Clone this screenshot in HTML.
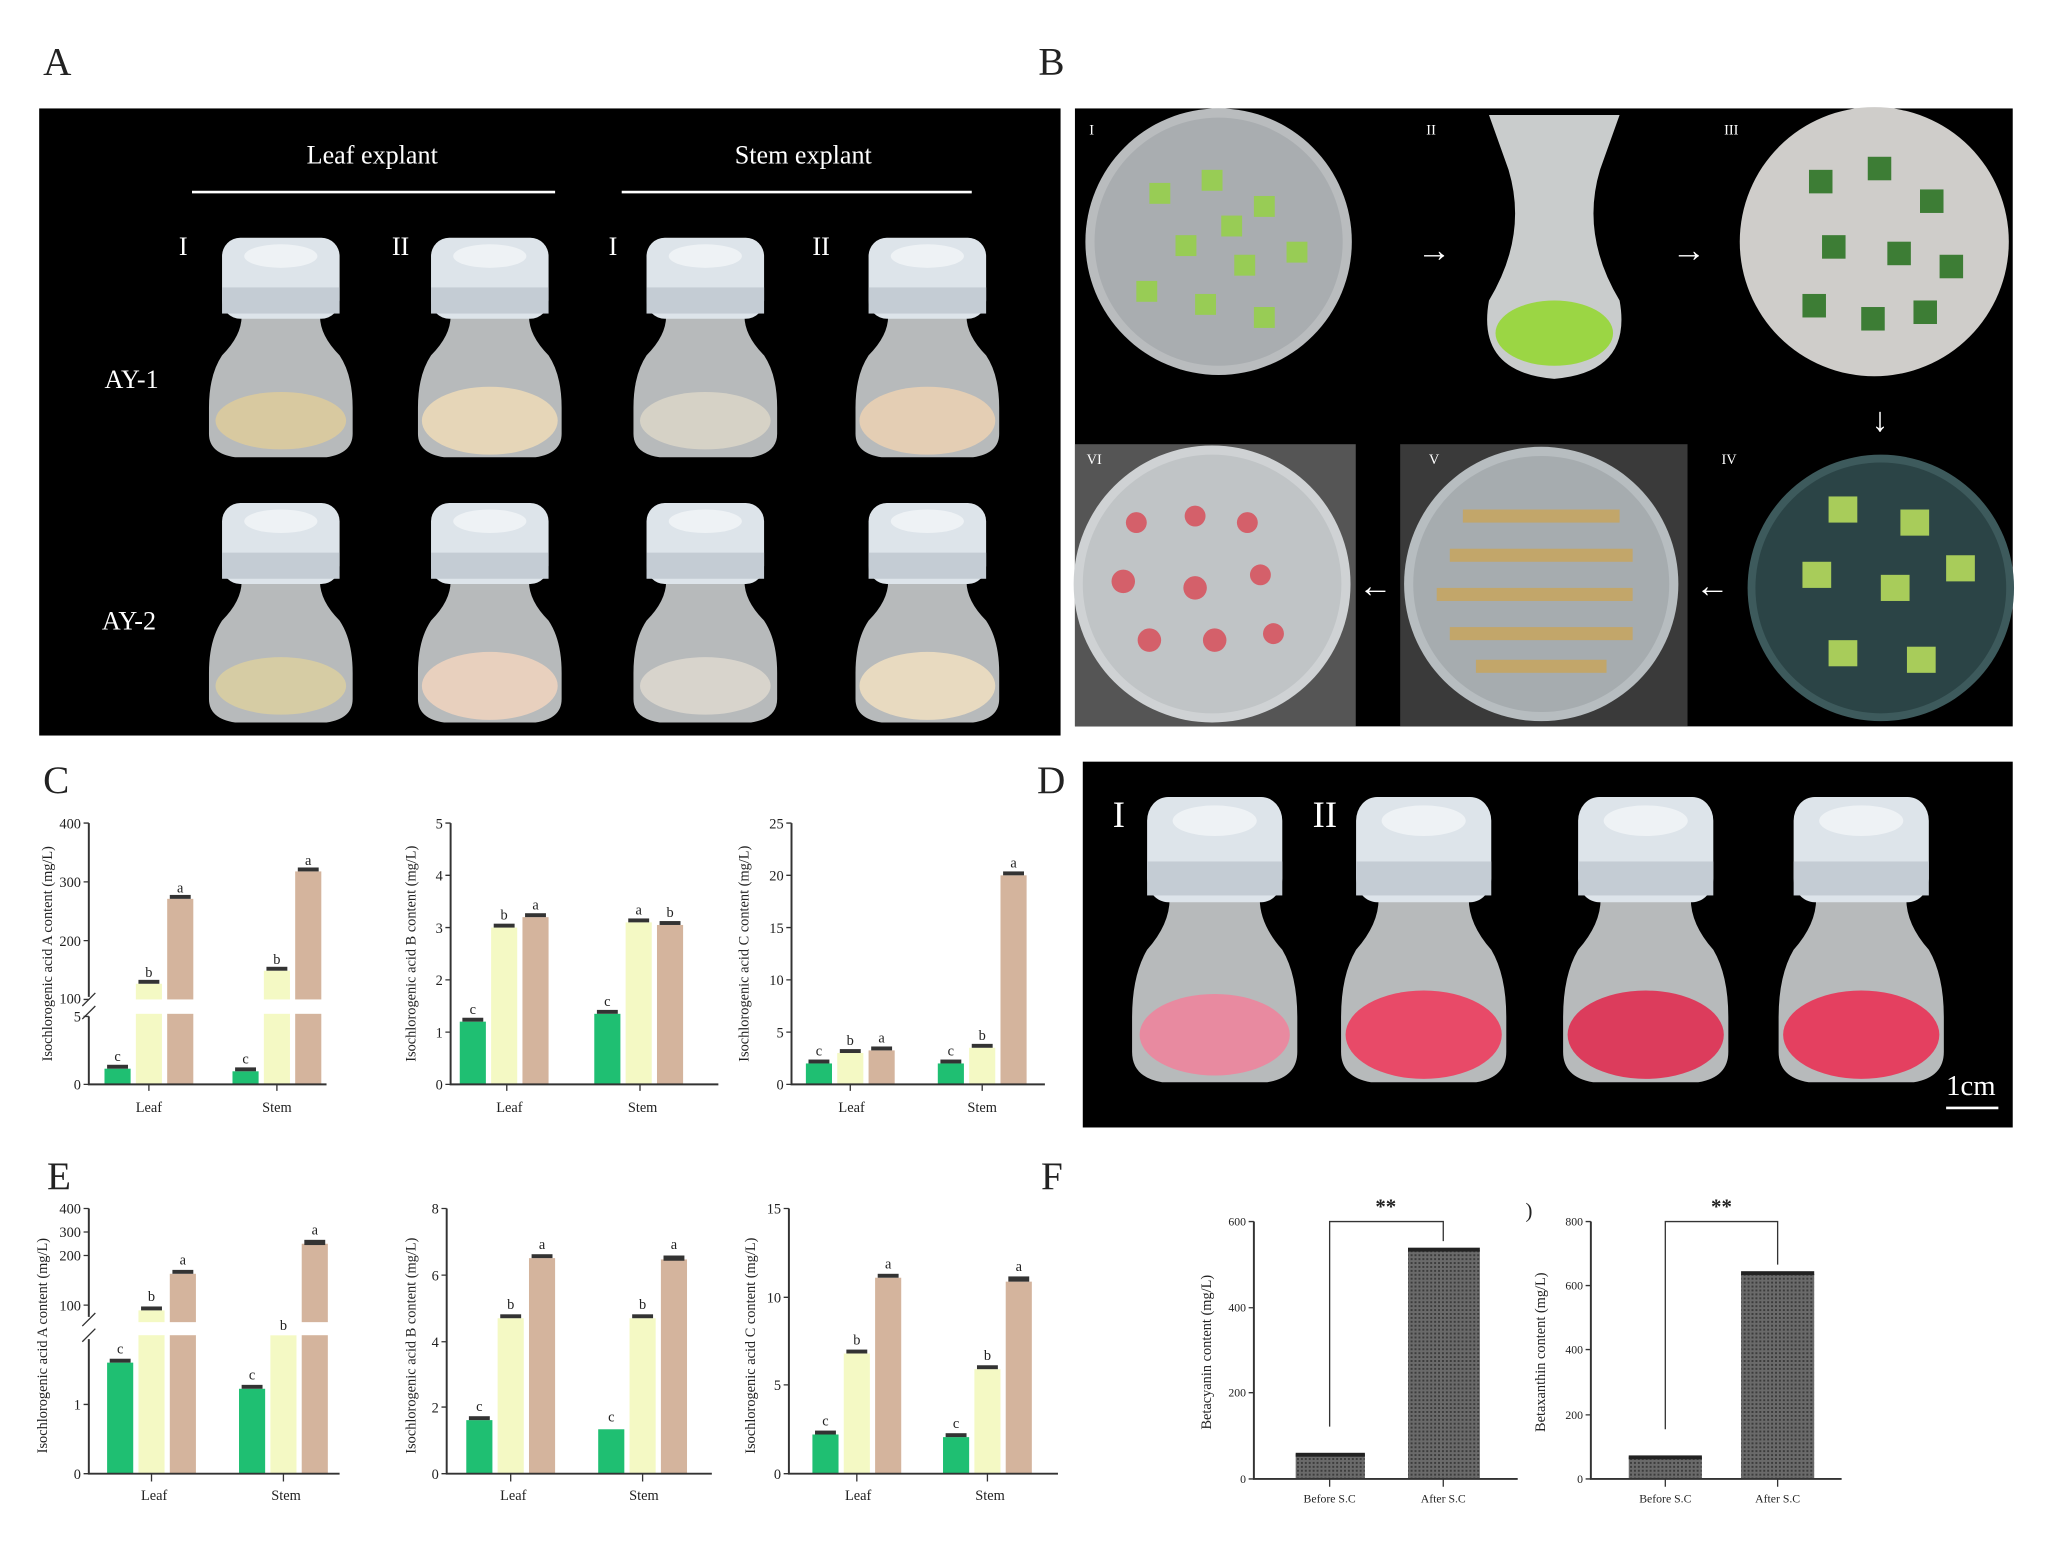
<!DOCTYPE html>
<html><head><meta charset="utf-8"><style>
html,body{margin:0;padding:0;background:#fff}
svg{display:block}
text{font-family:"Liberation Serif",serif;fill:#222}
</style></head><body>
<svg width="2048" height="1556" viewBox="0 0 1568 1191" preserveAspectRatio="none" xmlns="http://www.w3.org/2000/svg">
<defs>
<pattern id="hat" width="3" height="3" patternUnits="userSpaceOnUse"><rect width="3" height="3" fill="#6a6a6a"/><rect width="1.5" height="1.5" fill="#3c3c3c"/></pattern>
<g id="bottle">
<path d="M-30 60 Q-30 75 -45 90 Q-55 105 -55 130 L-55 150 Q-55 165 -35 168 L35 168 Q55 165 55 150 L55 130 Q55 105 45 90 Q30 75 30 60 Z" fill="#d7dadc" opacity="0.85"/>
<rect x="-45" y="0" width="90" height="62" rx="14" fill="#dde4ea"/>
<rect x="-45" y="38" width="90" height="20" fill="#c4ccd4"/>
<ellipse cx="0" cy="14" rx="28" ry="9" fill="#eef2f5"/>
</g>
</defs>
<rect width="1568" height="1191" fill="#fff"/>
<text x="33" y="57" font-size="30">A</text>
<text x="795" y="57" font-size="30">B</text>
<text x="33" y="607" font-size="30">C</text>
<text x="794" y="607" font-size="30">D</text>
<text x="36" y="910" font-size="30">E</text>
<text x="797" y="910" font-size="30">F</text>

<rect x="30" y="83" width="782" height="480" fill="#000"/>
<text x="285" y="125" font-size="20" style="fill:#fff" text-anchor="middle">Leaf explant</text>
<text x="615" y="125" font-size="20" style="fill:#fff" text-anchor="middle">Stem explant</text>
<line x1="147" y1="147" x2="425" y2="147" stroke="#fff" stroke-width="2"/>
<line x1="476" y1="147" x2="744" y2="147" stroke="#fff" stroke-width="2"/>
<text x="137" y="195" font-size="20" style="fill:#fff">I</text>
<text x="300" y="195" font-size="20" style="fill:#fff">II</text>
<text x="466" y="195" font-size="20" style="fill:#fff">I</text>
<text x="622" y="195" font-size="20" style="fill:#fff">II</text>
<text x="80" y="297" font-size="20" style="fill:#fff">AY-1</text>
<text x="78" y="482" font-size="20" style="fill:#fff">AY-2</text>
<g transform="translate(215,182)"><use href="#bottle"/><ellipse cx="0" cy="140" rx="50" ry="22" fill="#d8c9a0"/></g>
<g transform="translate(375,182)"><use href="#bottle"/><ellipse cx="0" cy="140" rx="52" ry="26" fill="#e6d6b8"/></g>
<g transform="translate(540,182)"><use href="#bottle"/><ellipse cx="0" cy="140" rx="50" ry="22" fill="#d6d2c6"/></g>
<g transform="translate(710,182)"><use href="#bottle"/><ellipse cx="0" cy="140" rx="52" ry="26" fill="#e4ceb4"/></g>
<g transform="translate(215,385)"><use href="#bottle"/><ellipse cx="0" cy="140" rx="50" ry="22" fill="#d6cca4"/></g>
<g transform="translate(375,385)"><use href="#bottle"/><ellipse cx="0" cy="140" rx="52" ry="26" fill="#e8d0be"/></g>
<g transform="translate(540,385)"><use href="#bottle"/><ellipse cx="0" cy="140" rx="50" ry="22" fill="#d8d4cc"/></g>
<g transform="translate(710,385)"><use href="#bottle"/><ellipse cx="0" cy="140" rx="52" ry="26" fill="#e8dac0"/></g>

<rect x="823" y="83" width="718" height="473" fill="#000"/>
<circle cx="933" cy="185" r="102" fill="#b9bcbe"/><circle cx="933" cy="185" r="95" fill="#a9adb0"/>
<g fill="#98cc55"><rect x="880" y="140" width="16" height="16"/><rect x="920" y="130" width="16" height="16"/><rect x="960" y="150" width="16" height="16"/><rect x="900" y="180" width="16" height="16"/><rect x="945" y="195" width="16" height="16"/><rect x="985" y="185" width="16" height="16"/><rect x="870" y="215" width="16" height="16"/><rect x="915" y="225" width="16" height="16"/><rect x="960" y="235" width="16" height="16"/><rect x="935" y="165" width="16" height="16"/></g>
<text x="1085" y="200" font-size="26" style="fill:#fff">→</text>
<path d="M1140 88 L1240 88 L1225 130 Q1210 180 1240 230 Q1250 285 1190 290 Q1130 285 1140 230 Q1170 180 1155 130 Z" fill="#c9cccc"/>
<ellipse cx="1190" cy="255" rx="45" ry="25" fill="#9bd644"/>
<text x="1280" y="200" font-size="26" style="fill:#fff">→</text>
<circle cx="1435" cy="185" r="103" fill="#cfcdca"/>
<g fill="#3d7d35"><rect x="1385" y="130" width="18" height="18"/><rect x="1430" y="120" width="18" height="18"/><rect x="1470" y="145" width="18" height="18"/><rect x="1395" y="180" width="18" height="18"/><rect x="1445" y="185" width="18" height="18"/><rect x="1485" y="195" width="18" height="18"/><rect x="1380" y="225" width="18" height="18"/><rect x="1425" y="235" width="18" height="18"/><rect x="1465" y="230" width="18" height="18"/></g>
<text x="1433" y="330" font-size="26" style="fill:#fff">↓</text>
<circle cx="1440" cy="450" r="102" fill="#3d5a5c"/><circle cx="1440" cy="450" r="96" fill="#2b4446"/>
<g fill="#a8cc5a"><rect x="1400" y="380" width="22" height="20"/><rect x="1455" y="390" width="22" height="20"/><rect x="1380" y="430" width="22" height="20"/><rect x="1440" y="440" width="22" height="20"/><rect x="1490" y="425" width="22" height="20"/><rect x="1400" y="490" width="22" height="20"/><rect x="1460" y="495" width="22" height="20"/></g>
<text x="1298" y="457" font-size="26" style="fill:#fff">←</text>
<rect x="1072" y="340" width="220" height="216" fill="#3a3a3a"/>
<circle cx="1180" cy="447" r="105" fill="#b7bdc0"/><circle cx="1180" cy="447" r="98" fill="#a6acaf"/>
<g fill="#c2a66a"><rect x="1120" y="390" width="120" height="10"/><rect x="1110" y="420" width="140" height="10"/><rect x="1100" y="450" width="150" height="10"/><rect x="1110" y="480" width="140" height="10"/><rect x="1130" y="505" width="100" height="10"/></g>
<text x="1040" y="457" font-size="26" style="fill:#fff">←</text>
<rect x="823" y="340" width="215" height="216" fill="#555"/>
<circle cx="928" cy="447" r="106" fill="#cfd2d4"/><circle cx="928" cy="447" r="99" fill="#c0c4c6"/>
<g fill="#d4606a"><circle cx="870" cy="400" r="8"/><circle cx="915" cy="395" r="8"/><circle cx="955" cy="400" r="8"/><circle cx="860" cy="445" r="9"/><circle cx="915" cy="450" r="9"/><circle cx="965" cy="440" r="8"/><circle cx="880" cy="490" r="9"/><circle cx="930" cy="490" r="9"/><circle cx="975" cy="485" r="8"/></g>
<g font-size="11"><text x="834" y="103" style="fill:#fff">I</text><text x="1092" y="103" style="fill:#fff">II</text><text x="1320" y="103" style="fill:#fff">III</text><text x="1318" y="355" style="fill:#fff">IV</text><text x="1094" y="355" style="fill:#fff">V</text><text x="832" y="355" style="fill:#fff">VI</text></g>

<rect x="829" y="583" width="712" height="280" fill="#000"/>
<text x="852" y="633" font-size="28" style="fill:#fff">I</text>
<text x="1005" y="633" font-size="28" style="fill:#fff">II</text>
<g transform="translate(930,610) scale(1.15,1.3)"><use href="#bottle"/><ellipse cx="0" cy="140" rx="50" ry="24" fill="#e88aa0"/></g>
<g transform="translate(1090,610) scale(1.15,1.3)"><use href="#bottle"/><ellipse cx="0" cy="140" rx="52" ry="26" fill="#e84a68"/></g>
<g transform="translate(1260,610) scale(1.15,1.3)"><use href="#bottle"/><ellipse cx="0" cy="140" rx="52" ry="26" fill="#dc3c5c"/></g>
<g transform="translate(1425,610) scale(1.15,1.3)"><use href="#bottle"/><ellipse cx="0" cy="140" rx="52" ry="26" fill="#e44060"/></g>
<text x="1490" y="838" font-size="22" style="fill:#fff">1cm</text>
<line x1="1490" y1="848" x2="1530" y2="848" stroke="#fff" stroke-width="2"/>

<g font-size="11" stroke="none">
<g>
<text transform="translate(40,730) rotate(-90)" text-anchor="middle" font-size="11">Isochlorogenic acid A content (mg/L)</text>
<rect x="80" y="818" width="20" height="12" fill="#1fbf72"/><rect x="104" y="753" width="20" height="77" fill="#f4f9c4"/><rect x="128" y="688" width="20" height="142" fill="#d4b49d"/>
<rect x="178" y="820" width="20" height="10" fill="#1fbf72"/><rect x="202" y="743" width="20" height="87" fill="#f4f9c4"/><rect x="226" y="667" width="20" height="163" fill="#d4b49d"/>
<rect x="100" y="765" width="160" height="11" fill="#fff"/>
<g fill="#333"><rect x="82" y="815" width="16" height="3"/><rect x="106" y="750" width="16" height="3"/><rect x="130" y="685" width="16" height="3"/><rect x="180" y="817" width="16" height="3"/><rect x="204" y="740" width="16" height="3"/><rect x="228" y="664" width="16" height="3"/></g>
<text x="90" y="812" text-anchor="middle">c</text><text x="114" y="748" text-anchor="middle">b</text><text x="138" y="683" text-anchor="middle">a</text><text x="188" y="814" text-anchor="middle">c</text><text x="212" y="738" text-anchor="middle">b</text><text x="236" y="662" text-anchor="middle">a</text>
<path d="M68 630 V763 M68 778 V830 H250" stroke="#333" stroke-width="1.5" fill="none"/>
<path d="M64 630H68M64 675H68M64 720H68M64 765H68M64 778H68M64 830H68M114 830V835M212 830V835" stroke="#333"/>
<path d="M63 770 L73 760 M63 780 L73 770" stroke="#333"/>
<g text-anchor="end"><text x="62" y="634">400</text><text x="62" y="679">300</text><text x="62" y="724">200</text><text x="62" y="768">100</text><text x="62" y="782">5</text><text x="62" y="834">0</text></g>
<text x="114" y="851" text-anchor="middle">Leaf</text><text x="212" y="851" text-anchor="middle">Stem</text>
</g>
<g>
<text transform="translate(318,730) rotate(-90)" text-anchor="middle">Isochlorogenic acid B content (mg/L)</text>
<rect x="352" y="782" width="20" height="48" fill="#1fbf72"/><rect x="376" y="710" width="20" height="120" fill="#f4f9c4"/><rect x="400" y="702" width="20" height="128" fill="#d4b49d"/>
<rect x="455" y="776" width="20" height="54" fill="#1fbf72"/><rect x="479" y="706" width="20" height="124" fill="#f4f9c4"/><rect x="503" y="708" width="20" height="122" fill="#d4b49d"/>
<g fill="#333"><rect x="354" y="779" width="16" height="3"/><rect x="378" y="707" width="16" height="3"/><rect x="402" y="699" width="16" height="3"/><rect x="457" y="773" width="16" height="3"/><rect x="481" y="703" width="16" height="3"/><rect x="505" y="705" width="16" height="3"/></g>
<text x="362" y="776" text-anchor="middle">c</text><text x="386" y="704" text-anchor="middle">b</text><text x="410" y="696" text-anchor="middle">a</text><text x="465" y="770" text-anchor="middle">c</text><text x="489" y="700" text-anchor="middle">a</text><text x="513" y="702" text-anchor="middle">b</text>
<path d="M345 630 V830 H550" stroke="#333" stroke-width="1.5" fill="none"/>
<path d="M341 630H345M341 670H345M341 710H345M341 750H345M341 790H345M341 830H345M388 830V835M490 830V835" stroke="#333"/>
<g text-anchor="end"><text x="339" y="634">5</text><text x="339" y="674">4</text><text x="339" y="714">3</text><text x="339" y="754">2</text><text x="339" y="794">1</text><text x="339" y="834">0</text></g>
<text x="390" y="851" text-anchor="middle">Leaf</text><text x="492" y="851" text-anchor="middle">Stem</text>
</g>
<g>
<text transform="translate(573,730) rotate(-90)" text-anchor="middle">Isochlorogenic acid C content (mg/L)</text>
<rect x="617" y="814" width="20" height="16" fill="#1fbf72"/><rect x="641" y="806" width="20" height="24" fill="#f4f9c4"/><rect x="665" y="804" width="20" height="26" fill="#d4b49d"/>
<rect x="718" y="814" width="20" height="16" fill="#1fbf72"/><rect x="742" y="802" width="20" height="28" fill="#f4f9c4"/><rect x="766" y="670" width="20" height="160" fill="#d4b49d"/>
<g fill="#333"><rect x="619" y="811" width="16" height="3"/><rect x="643" y="803" width="16" height="3"/><rect x="667" y="801" width="16" height="3"/><rect x="720" y="811" width="16" height="3"/><rect x="744" y="799" width="16" height="3"/><rect x="768" y="667" width="16" height="3"/></g>
<text x="627" y="808" text-anchor="middle">c</text><text x="651" y="800" text-anchor="middle">b</text><text x="675" y="798" text-anchor="middle">a</text><text x="728" y="808" text-anchor="middle">c</text><text x="752" y="796" text-anchor="middle">b</text><text x="776" y="664" text-anchor="middle">a</text>
<path d="M606 630 V830 H800" stroke="#333" stroke-width="1.5" fill="none"/>
<path d="M602 630H606M602 670H606M602 710H606M602 750H606M602 790H606M602 830H606M651 830V835M752 830V835" stroke="#333"/>
<g text-anchor="end"><text x="600" y="634">25</text><text x="600" y="674">20</text><text x="600" y="714">15</text><text x="600" y="754">10</text><text x="600" y="794">5</text><text x="600" y="834">0</text></g>
<text x="652" y="851" text-anchor="middle">Leaf</text><text x="752" y="851" text-anchor="middle">Stem</text>
</g>

<g>
<text transform="translate(36,1030) rotate(-90)" text-anchor="middle">Isochlorogenic acid A content (mg/L)</text>
<rect x="82" y="1043" width="20" height="85" fill="#1fbf72"/><rect x="106" y="1003" width="20" height="125" fill="#f4f9c4"/><rect x="130" y="975" width="20" height="153" fill="#d4b49d"/>
<rect x="183" y="1063" width="20" height="65" fill="#1fbf72"/><rect x="207" y="1022" width="20" height="106" fill="#f4f9c4"/><rect x="231" y="952" width="20" height="176" fill="#d4b49d"/>
<rect x="100" y="1012" width="160" height="10" fill="#fff"/>
<g fill="#333"><rect x="84" y="1040" width="16" height="3"/><rect x="108" y="1000" width="16" height="3"/><rect x="132" y="972" width="16" height="3"/><rect x="185" y="1060" width="16" height="3"/><rect x="233" y="949" width="16" height="4"/></g>
<text x="92" y="1036" text-anchor="middle">c</text><text x="116" y="996" text-anchor="middle">b</text><text x="140" y="968" text-anchor="middle">a</text><text x="193" y="1056" text-anchor="middle">c</text><text x="217" y="1018" text-anchor="middle">b</text><text x="241" y="945" text-anchor="middle">a</text>
<path d="M68 925 V1008 M68 1025 V1128 H260" stroke="#333" stroke-width="1.5" fill="none"/>
<path d="M64 925H68M64 943H68M64 961H68M64 999H68M64 1075H68M64 1128H68M116 1128V1134M217 1128V1134" stroke="#333"/>
<path d="M63 1015 L73 1005 M63 1027 L73 1017" stroke="#333"/>
<g text-anchor="end"><text x="62" y="929">400</text><text x="62" y="947">300</text><text x="62" y="965">200</text><text x="62" y="1003">100</text><text x="62" y="1079">1</text><text x="62" y="1132">0</text></g>
<text x="118" y="1148" text-anchor="middle">Leaf</text><text x="219" y="1148" text-anchor="middle">Stem</text>
</g>
<g>
<text transform="translate(318,1030) rotate(-90)" text-anchor="middle">Isochlorogenic acid B content (mg/L)</text>
<rect x="357" y="1087" width="20" height="41" fill="#1fbf72"/><rect x="381" y="1009" width="20" height="119" fill="#f4f9c4"/><rect x="405" y="963" width="20" height="165" fill="#d4b49d"/>
<rect x="458" y="1094" width="20" height="34" fill="#1fbf72"/><rect x="482" y="1009" width="20" height="119" fill="#f4f9c4"/><rect x="506" y="964" width="20" height="164" fill="#d4b49d"/>
<g fill="#333"><rect x="359" y="1084" width="16" height="3"/><rect x="383" y="1006" width="16" height="3"/><rect x="407" y="960" width="16" height="3"/><rect x="484" y="1006" width="16" height="3"/><rect x="508" y="961" width="16" height="4"/></g>
<text x="367" y="1080" text-anchor="middle">c</text><text x="391" y="1002" text-anchor="middle">b</text><text x="415" y="956" text-anchor="middle">a</text><text x="468" y="1088" text-anchor="middle">c</text><text x="492" y="1002" text-anchor="middle">b</text><text x="516" y="956" text-anchor="middle">a</text>
<path d="M342 925 V1128 H545" stroke="#333" stroke-width="1.5" fill="none"/>
<path d="M338 925H342M338 976H342M338 1027H342M338 1077H342M338 1128H342M391 1128V1134M492 1128V1134" stroke="#333"/>
<g text-anchor="end"><text x="336" y="929">8</text><text x="336" y="980">6</text><text x="336" y="1031">4</text><text x="336" y="1081">2</text><text x="336" y="1132">0</text></g>
<text x="393" y="1148" text-anchor="middle">Leaf</text><text x="493" y="1148" text-anchor="middle">Stem</text>
</g>
<g>
<text transform="translate(578,1030) rotate(-90)" text-anchor="middle">Isochlorogenic acid C content (mg/L)</text>
<rect x="622" y="1098" width="20" height="30" fill="#1fbf72"/><rect x="646" y="1036" width="20" height="92" fill="#f4f9c4"/><rect x="670" y="978" width="20" height="150" fill="#d4b49d"/>
<rect x="722" y="1100" width="20" height="28" fill="#1fbf72"/><rect x="746" y="1048" width="20" height="80" fill="#f4f9c4"/><rect x="770" y="981" width="20" height="147" fill="#d4b49d"/>
<g fill="#333"><rect x="624" y="1095" width="16" height="3"/><rect x="648" y="1033" width="16" height="3"/><rect x="672" y="975" width="16" height="3"/><rect x="724" y="1097" width="16" height="3"/><rect x="748" y="1045" width="16" height="3"/><rect x="772" y="977" width="16" height="4"/></g>
<text x="632" y="1091" text-anchor="middle">c</text><text x="656" y="1029" text-anchor="middle">b</text><text x="680" y="971" text-anchor="middle">a</text><text x="732" y="1093" text-anchor="middle">c</text><text x="756" y="1041" text-anchor="middle">b</text><text x="780" y="973" text-anchor="middle">a</text>
<path d="M604 925 V1128 H810" stroke="#333" stroke-width="1.5" fill="none"/>
<path d="M600 925H604M600 993H604M600 1060H604M600 1128H604M656 1128V1134M756 1128V1134" stroke="#333"/>
<g text-anchor="end"><text x="598" y="929">15</text><text x="598" y="997">10</text><text x="598" y="1064">5</text><text x="598" y="1132">0</text></g>
<text x="657" y="1148" text-anchor="middle">Leaf</text><text x="758" y="1148" text-anchor="middle">Stem</text>
</g>

<g>
<text transform="translate(927,1035) rotate(-90)" text-anchor="middle">Betacyanin content (mg/L)</text>
<rect x="992" y="1113" width="53" height="19" fill="url(#hat)"/><rect x="1078" y="957" width="55" height="175" fill="url(#hat)"/>
<rect x="992" y="1112" width="53" height="3" fill="#222"/><rect x="1078" y="955" width="55" height="3" fill="#222"/>
<path d="M960 935 V1132 H1162" stroke="#333" stroke-width="1.5" fill="none"/>
<path d="M956 935H960M956 1001H960M956 1066H960M956 1132H960M1018 1132V1138M1105 1132V1138" stroke="#333"/>
<path d="M1018 1092 V935 H1105 V950" stroke="#333" fill="none"/>
<text x="1061" y="929" text-anchor="middle" font-size="16" font-weight="bold">**</text>
<g text-anchor="end" font-size="9"><text x="954" y="938">600</text><text x="954" y="1004">400</text><text x="954" y="1069">200</text><text x="954" y="1135">0</text></g>
<text x="1018" y="1150" text-anchor="middle" font-size="9">Before S.C</text><text x="1105" y="1150" text-anchor="middle" font-size="9">After S.C</text>
</g>
<text x="1168" y="932" font-size="16">)</text>
<g>
<text transform="translate(1183,1035) rotate(-90)" text-anchor="middle">Betaxanthin content (mg/L)</text>
<rect x="1247" y="1115" width="56" height="17" fill="url(#hat)"/><rect x="1333" y="975" width="56" height="157" fill="url(#hat)"/>
<rect x="1247" y="1114" width="56" height="3" fill="#222"/><rect x="1333" y="973" width="56" height="3" fill="#222"/>
<path d="M1218 935 V1132 H1410" stroke="#333" stroke-width="1.5" fill="none"/>
<path d="M1214 935H1218M1214 984H1218M1214 1033H1218M1214 1083H1218M1214 1132H1218M1275 1132V1138M1361 1132V1138" stroke="#333"/>
<path d="M1275 1094 V935 H1361 V968" stroke="#333" fill="none"/>
<text x="1318" y="929" text-anchor="middle" font-size="16" font-weight="bold">**</text>
<g text-anchor="end" font-size="9"><text x="1212" y="938">800</text><text x="1212" y="987">600</text><text x="1212" y="1036">400</text><text x="1212" y="1086">200</text><text x="1212" y="1135">0</text></g>
<text x="1275" y="1150" text-anchor="middle" font-size="9">Before S.C</text><text x="1361" y="1150" text-anchor="middle" font-size="9">After S.C</text>
</g>
</g>
</svg>
</body></html>
